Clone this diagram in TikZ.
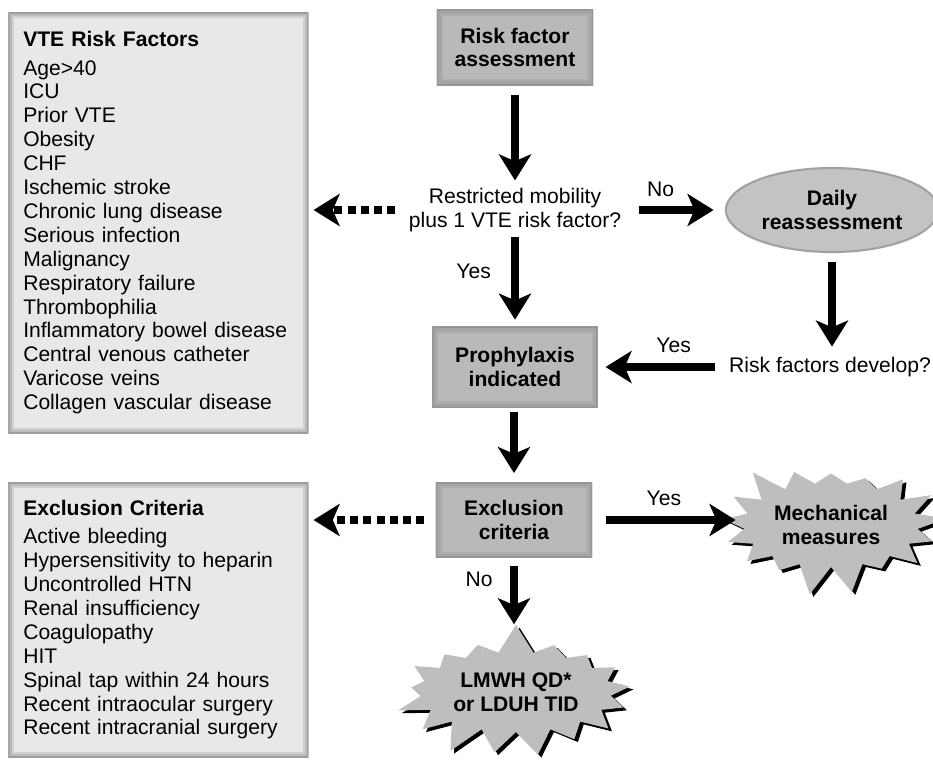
\documentclass[tikz,border=0pt]{standalone}
\usepackage{fontspec}
\setmainfont{Liberation Sans}
\usetikzlibrary{arrows.meta, shapes.geometric, shapes.symbols, shadows}

\definecolor{listfill}{HTML}{E8E8E8}
\definecolor{listedge}{HTML}{858585}
\definecolor{procfill}{HTML}{B9B9B9}
\definecolor{procedge}{HTML}{8A8A8A}
\definecolor{burstfill}{HTML}{BEBEBE}

\tikzset{
    txt/.style={font=\fontsize{15pt}{17pt}\selectfont},
    bold/.style={font=\fontsize{15pt}{17pt}\selectfont\bfseries},
    softedge/.style 2 args={path picture={
        \foreach \w/\c in {8/25,5/45,2/75}
            \draw[#1!\c!#2, line width=\w pt] (path picture bounding box.south west) rectangle (path picture bounding box.north east);}},
    listbox/.style={txt, anchor=north west, fill=listfill, softedge={listedge}{listfill},
        text width=6.75cm, inner xsep=0.375cm, inner ysep=0.4cm, align=left, minimum width=7.5cm},
    procbox/.style={bold, fill=procfill, softedge={procedge}{procfill}, align=center},
    ovalbox/.style={bold, ellipse, fill=procfill!85!white, draw=procedge!80, line width=1.5pt, align=center},
    burst/.style={bold, starburst, fill=burstfill, align=center, starburst point height=0.75cm,
        drop shadow={shadow xshift=2.5pt, shadow yshift=-2pt, fill=black, opacity=1}},
    flow/.style={line width=0.2cm, -{Stealth[length=0.65cm, width=0.8cm, inset=0.17cm]}},
    dashflow/.style={flow, dash pattern=on 5.7pt off 3.6pt},
    lbl/.style={txt, midway}
}

\begin{document}
\begin{tikzpicture}[x=0.025cm, y=-0.025cm]
    \useasboundingbox (0,0) rectangle (933,764);
    % side lists
    \node[listbox, minimum height=10.525cm] (vte) at (8,12) {\textbf{VTE Risk Factors}\\[3pt]
        Age>40\\ ICU\\ Prior VTE\\ Obesity\\ CHF\\ Ischemic stroke\\ Chronic lung disease\\
        Serious infection\\ Malignancy\\ Respiratory failure\\ Thrombophilia\\
        Inflammatory bowel disease\\ Central venous catheter\\ Varicose veins\\ Collagen vascular disease};
    \node[listbox, minimum height=6.875cm] (exlist) at (8,482) {\textbf{Exclusion Criteria}\\[3pt]
        Active bleeding\\ Hypersensitivity to heparin\\ Uncontrolled HTN\\ Renal insufficiency\\
        Coagulopathy\\ HIT\\ Spinal tap within 24 hours\\ Recent intraocular surgery\\ Recent intracranial surgery};
    % main column
    \node[procbox, minimum width=3.9cm, minimum height=1.875cm] (rf) at (515,47.5) {Risk factor\\assessment};
    \node[txt, align=center] (q) at (515,210) {Restricted mobility\\plus 1 VTE risk factor?};
    \node[procbox, minimum width=4.125cm, minimum height=2cm] (proph) at (515,367) {Prophylaxis\\indicated};
    \node[procbox, minimum width=3.9cm, minimum height=1.875cm] (excl) at (514,520) {Exclusion\\criteria};
    \node[burst, minimum width=5.6cm, minimum height=3.5cm, random starburst=7] (lmwh) at (516,692) {LMWH QD*\\or LDUH TID};
    % right column
    \node[ovalbox, minimum width=4.7cm, minimum height=2.1cm] (daily) at (832,210) {Daily\\reassessment};
    \node[txt] (rfd) at (830,367) {Risk factors develop?};
    \node[burst, minimum width=5.15cm, minimum height=3.6cm, random starburst=3] (mech) at (831,525) {Mechanical\\measures};
    % connectors
    \draw[flow, shorten <=7pt, shorten >=2pt] (rf) -- (q);
    \draw[flow, shorten >=5pt] (q) -- node[lbl, left=11pt, pos=0.39] {Yes} (proph);
    \draw[flow, shorten <=9pt, shorten >=8pt] (q) -- node[lbl, above=3.5pt, pos=0.35] {No} (daily);
    \draw[dashflow, shorten <=6.5pt, shorten >=3.5pt] (q.west) -- (vte.east |- q.west);
    \draw[flow, shorten <=6pt, shorten >=4pt] (daily) -- (daily |- rfd.north);
    \draw[flow, shorten <=6.5pt, shorten >=5.5pt] (rfd) -- node[lbl, above=4pt, pos=0.4] {Yes} (proph);
    \draw[flow, shorten <=3.5pt, shorten >=6.5pt] (proph.south -| excl.north) -- (excl);
    \draw[dashflow, shorten <=8.5pt, shorten >=3.5pt] (excl.west) -- (exlist.east |- excl.west);
    \draw[flow, shorten <=10pt] (excl.east) -- node[lbl, above=4pt] {Yes} (mech.west |- excl.east);
    \draw[flow, shorten <=5.5pt] (excl.south) -- node[lbl, left=9pt, pos=0.32] {No} (excl.south |- lmwh.north);
\end{tikzpicture}
\end{document}
